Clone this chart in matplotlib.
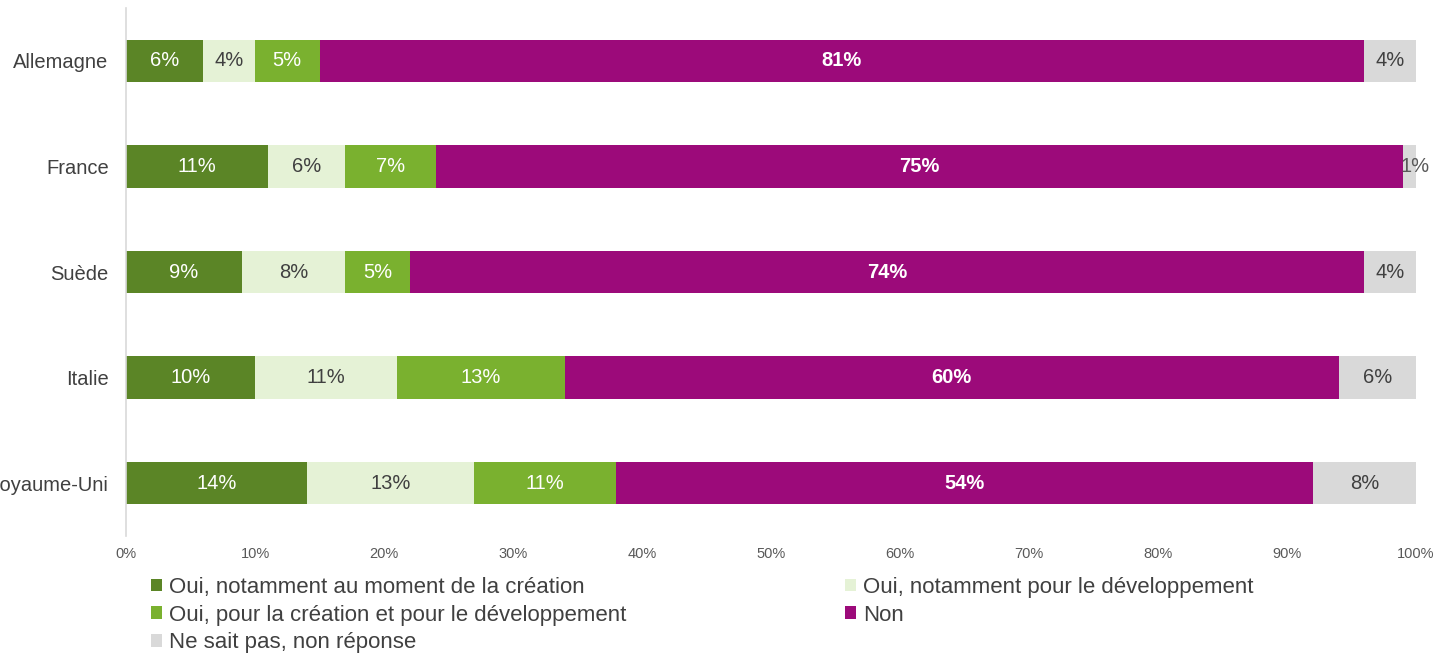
import matplotlib
matplotlib.use("Agg")
import matplotlib.pyplot as plt
import numpy as np

plt.rcParams['font.family'] = ['Liberation Sans', 'DejaVu Sans']

countries = ["Allemagne", "France", "Suède", "Italie", "Royaume-Uni"]
series_names = [
    "Oui, notamment au moment de la création",
    "Oui, notamment pour le développement",
    "Oui, pour la création et pour le développement",
    "Non",
    "Ne sait pas, non réponse",
]
oui_creation = [6, 11, 9, 10, 14]
oui_dev = [4, 6, 8, 11, 13]
oui_both = [5, 7, 5, 13, 11]
non = [81, 75, 74, 60, 54]
nsp = [4, 1, 4, 6, 8]
series = [oui_creation, oui_dev, oui_both, non, nsp]

colors = ["#5B8526", "#E5F2D6", "#7AB12F", "#9C0A7A", "#D9D9D9"]
label_colors = ["white", "#404040", "white", "white", "#404040"]
label_weights = ["normal", "normal", "normal", "bold", "normal"]

fig = plt.figure(figsize=(14.38, 6.53), dpi=100)
ax = fig.add_axes([126/1438, 1-536/653, (1416-126)/1438, (536-8)/653])

y = np.arange(len(countries))
left = np.zeros(len(countries))
handles = []
for i, vals in enumerate(series):
    vals = np.array(vals, dtype=float)
    bars = ax.barh(y, vals, left=left, height=0.4, color=colors[i], label=series_names[i])
    handles.append(bars)
    for j, v in enumerate(vals):
        cx = left[j] + v / 2
        if i == 4 and v < 2:
            ax.text(left[j] + v / 2 + 0.45, y[j], f"{int(v)}%", ha="center", va="center",
                    color="#595959", fontsize=14.5)
        else:
            ax.text(cx, y[j], f"{int(v)}%", ha="center", va="center",
                    color=label_colors[i], fontsize=14.5, fontweight=label_weights[i])
    left += vals

ax.set_xlim(0, 100)
ax.set_ylim(len(countries) - 0.5, -0.5)
ax.set_yticks(y)
ax.set_yticklabels(countries, fontsize=14.5, color="#404040")
ax.set_xticks(np.arange(0, 101, 10))
ax.set_xticklabels([f"{t}%" for t in range(0, 101, 10)], fontsize=10.5, color="#595959")
ax.tick_params(axis="both", length=0)
ax.tick_params(axis="x", pad=8)
ax.tick_params(axis="y", pad=12.5)
for s in ["top", "right", "bottom"]:
    ax.spines[s].set_visible(False)
ax.spines["left"].set_color("#D9D9D9")
ax.spines["left"].set_linewidth(1.2)

leg_kw = dict(loc="upper left", frameon=False, fontsize=16, handlelength=0.5,
              handleheight=0.5, handletextpad=0.3, labelspacing=0.3,
              borderaxespad=0, borderpad=0)
leg1 = fig.legend(handles=[handles[0], handles[2], handles[4]],
                  labels=[series_names[0], series_names[2], series_names[4]],
                  bbox_to_anchor=(151/1438, 1-577/653), **leg_kw)
leg2 = fig.legend(handles=[handles[1], handles[3]],
                  labels=[series_names[1], series_names[3]],
                  bbox_to_anchor=(845/1438, 1-577/653), **leg_kw)
for leg in (leg1, leg2):
    for t in leg.get_texts():
        t.set_color("#404040")

fig.savefig("out.png", dpi=100)
